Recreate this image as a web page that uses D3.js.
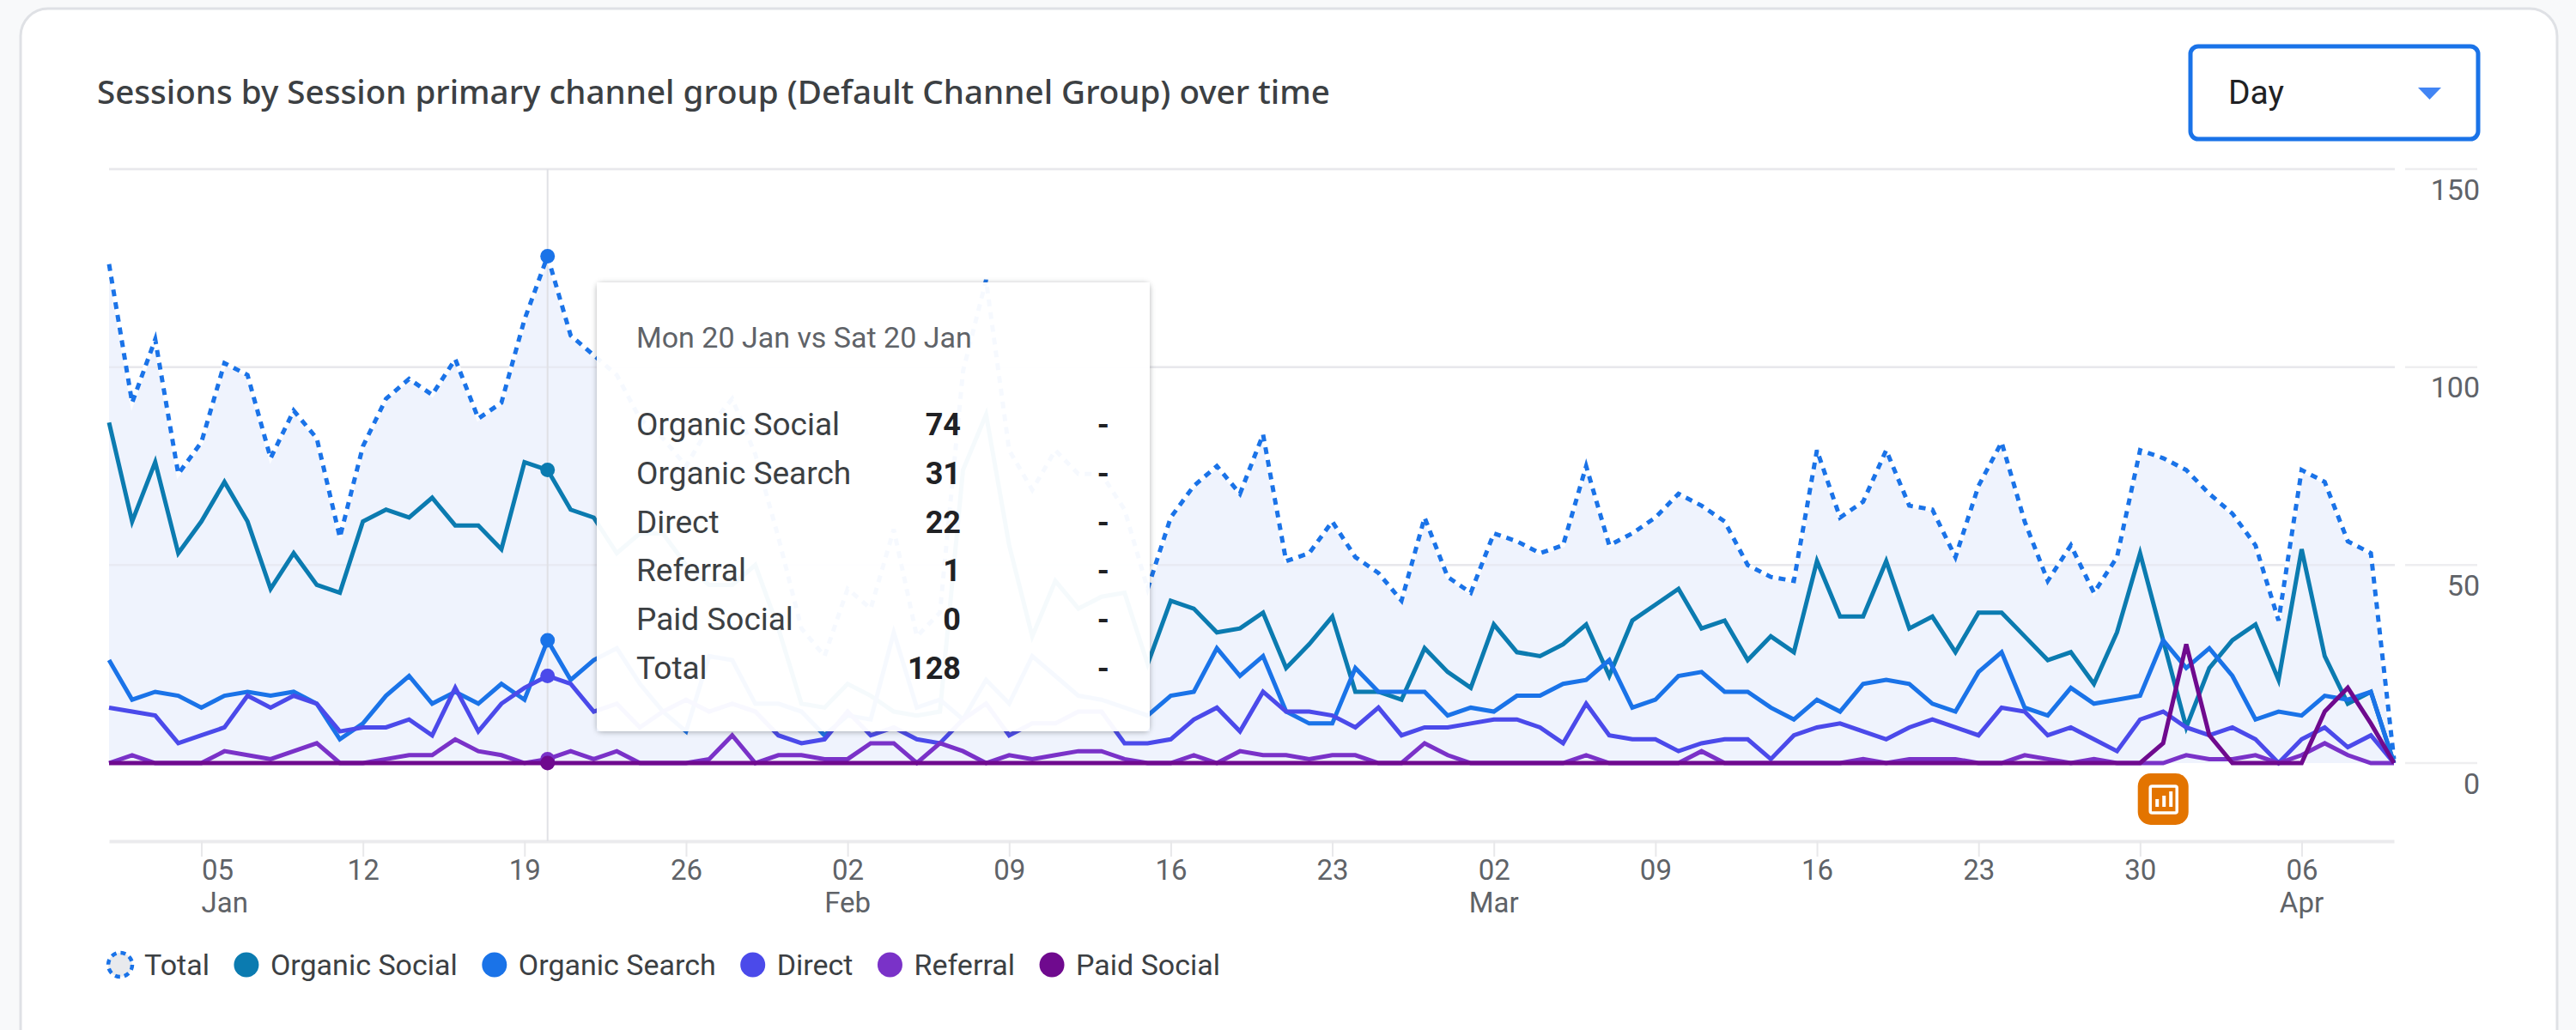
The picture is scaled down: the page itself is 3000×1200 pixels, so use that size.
<html>

<head>
  <title>Sessions over time</title>
  <script src="https://cdn.jsdelivr.net/npm/d3@7"></script>
</head>
<style>
  body {
    margin: 0;
    background: #f8f9fa;
  }

  svg {
    display: block;
    font-family: Roboto, sans-serif;
  }

  .tick-x line {
    stroke: #e8e8ea;
    stroke-width: 2;
  }

  .axis text {
    fill: #5f6368;
    font-size: 33px;
    font-family: Roboto, sans-serif;
  }

  .axis.y-labels text {
    font-size: 34px;
  }

  .axis .domain {
    stroke: #ebebed;
    stroke-width: 4;
  }

  .grid {
    stroke: #eeeef0;
    stroke-width: 2.5;
  }

  .series {
    fill: none;
    stroke-width: 5;
    stroke-linejoin: miter;
  }

  .tip-name {
    fill: #3c4043;
    font-size: 37px;
  }

  .tip-value {
    fill: #202124;
    font-size: 36px;
    font-weight: 700;
    text-anchor: end;
  }
</style>

<body>
  <div id="chart"></div>
</body>

<script>

  let width = 3000, height = 1200;

  // Jan 1 to Apr 10 2025, one value a day
  let firstDay = new Date(Date.UTC(2025, 0, 1));
  let lastDay = new Date(Date.UTC(2025, 3, 10));
  let days = d3.utcDay.range(firstDay, d3.utcDay.offset(lastDay, 1));

  let total = [
    126, 91, 107, 73, 81, 101, 98, 77, 89, 82, 57, 80, 92, 97, 93, 102, 87, 91, 112, 128,
    108, 103, 98, 87, 82, 75, 85, 92, 78, 57,
    34, 27, 44, 39, 59, 32, 38, 99, 122, 79,
    69, 79, 73, 73, 64, 44, 62, 70, 75, 68,
    83, 51, 53, 61, 52, 48, 41, 62, 47, 43,
    58, 56, 53, 55, 75, 55, 58, 62, 68, 65,
    61, 50, 47, 46, 79, 62, 66, 79, 65, 64,
    52, 70, 81, 61, 46, 55, 43, 52, 79, 77,
    74, 68, 63, 55, 36, 74, 71, 56, 53, 1
  ];
  let organicSocial = [
    86, 61, 76, 53, 61, 71, 61, 44, 53, 45, 43, 61, 64, 62, 67, 60, 60, 54, 76, 74,
    64, 62, 53, 58, 58, 50, 45, 45, 50, 34,
    15, 14, 20, 17, 13, 12, 13, 74, 88, 55,
    32, 46, 39, 42, 43, 25, 41, 39, 33, 34,
    38, 24, 30, 37, 18, 18, 16, 29, 23, 19,
    35, 28, 27, 30, 35, 22, 36, 40, 44, 34,
    36, 26, 32, 28, 51, 37, 37, 51, 34, 37,
    28, 38, 38, 32, 26, 28, 20, 33, 53, 31,
    9, 24, 31, 35, 21, 54, 27, 15, 18, 0
  ];
  let organicSearch = [
    26, 16, 18, 17, 14, 17, 18, 17, 18, 15, 6, 10, 17, 22, 15, 18, 15, 20, 16, 31,
    21, 26, 29, 20, 13, 8, 27, 26, 15, 15,
    13, 7, 12, 11, 33, 14, 16, 11, 21, 15,
    27, 22, 17, 16, 14, 12, 17, 18, 29, 22,
    27, 13, 10, 10, 24, 18, 18, 18, 12, 14,
    13, 17, 17, 20, 21, 26, 14, 16, 22, 23,
    18, 18, 14, 11, 16, 13, 20, 21, 20, 15,
    13, 23, 28, 14, 12, 19, 15, 16, 17, 31,
    24, 29, 22, 11, 13, 12, 17, 16, 18, 0
  ];
  let direct = [
    14, 13, 12, 5, 7, 9, 17, 14, 17, 15, 8, 9, 9, 11, 7, 19, 8, 15, 19, 22,
    20, 13, 15, 9, 13, 16, 13, 15, 13, 7,
    5, 6, 13, 7, 9, 6, 5, 11, 15, 7,
    10, 10, 13, 13, 5, 5, 6, 11, 14, 8,
    18, 13, 13, 12, 9, 14, 7, 9, 9, 10,
    11, 11, 9, 5, 15, 7, 6, 6, 3, 5,
    6, 6, 1, 7, 9, 10, 8, 6, 9, 11,
    9, 7, 14, 13, 7, 9, 6, 3, 11, 13,
    9, 7, 9, 6, 0, 6, 9, 4, 7, 0
  ];
  let referral = [
    0, 2, 0, 0, 0, 3, 2, 1, 3, 5, 0, 0, 1, 2, 2, 6, 3, 2, 0, 1,
    3, 1, 3, 0, 0, 0, 1, 7, 0, 2,
    2, 1, 1, 5, 5, 0, 5, 3, 0, 2,
    1, 2, 3, 3, 1, 0, 0, 2, 0, 3,
    2, 2, 1, 2, 2, 0, 0, 5, 2, 0,
    0, 0, 0, 0, 2, 0, 0, 0, 0, 3,
    0, 0, 0, 0, 0, 0, 1, 0, 1, 1,
    1, 0, 0, 2, 1, 0, 1, 0, 0, 0,
    2, 1, 1, 2, 0, 2, 5, 2, 0, 0
  ];
  let paidSocial = [
    0, 0, 0, 0, 0, 0, 0, 0, 0, 0, 0, 0, 0, 0, 0, 0, 0, 0, 0, 0,
    0, 0, 0, 0, 0, 0, 0, 0, 0, 0,
    0, 0, 0, 0, 0, 0, 0, 0, 0, 0,
    0, 0, 0, 0, 0, 0, 0, 0, 0, 0,
    0, 0, 0, 0, 0, 0, 0, 0, 0, 0,
    0, 0, 0, 0, 0, 0, 0, 0, 0, 0,
    0, 0, 0, 0, 0, 0, 0, 0, 0, 0,
    0, 0, 0, 0, 0, 0, 0, 0, 0, 5,
    30, 7, 0, 0, 0, 0, 13, 19, 10, 0
  ];

  let seriesNames = ["Organic Social", "Organic Search", "Direct", "Referral", "Paid Social"];
  let seriesValues = [organicSocial, organicSearch, direct, referral, paidSocial];
  let seriesColors = ["#0b7bb0", "#1a73e8", "#4b4aea", "#7a32c8", "#6f0a8e"];
  let totalColor = "#1a73e8";

  let tickDays = [
    [0, 5], [0, 12], [0, 19], [0, 26], [1, 2], [1, 9], [1, 16], [1, 23],
    [2, 2], [2, 9], [2, 16], [2, 23], [2, 30], [3, 6]
  ].map(d => new Date(Date.UTC(2025, d[0], d[1])));
  let monthTicks = [
    { day: new Date(Date.UTC(2025, 0, 5)), label: "Jan" },
    { day: new Date(Date.UTC(2025, 1, 2)), label: "Feb" },
    { day: new Date(Date.UTC(2025, 2, 2)), label: "Mar" },
    { day: new Date(Date.UTC(2025, 3, 6)), label: "Apr" }
  ];
  let yTicks = [0, 50, 100, 150];

  let hoverDay = new Date(Date.UTC(2025, 0, 20));
  let noteDay = new Date(Date.UTC(2025, 2, 31));
  let tipTitle = "Mon 20 Jan vs Sat 20 Jan";
  let tipNames = ["Organic Social", "Organic Search", "Direct", "Referral", "Paid Social", "Total"];
  let tipValues = [74, 31, 22, 1, 0, 128];

  let x = d3.scaleUtc().domain([firstDay, lastDay]).range([127, 2788]);
  let y = d3.scaleLinear().domain([0, 150]).range([889, 197]);

  let svg = d3.select("#chart").append("svg")
    .attr("width", width)
    .attr("height", height);

  // card
  svg.append("rect")
    .attr("x", 24).attr("y", 10)
    .attr("width", 2954).attr("height", 1300)
    .attr("rx", 32)
    .attr("fill", "#fff")
    .attr("stroke", "#dfe1e5")
    .attr("stroke-width", 3);

  svg.append("text")
    .attr("x", 113).attr("y", 121)
    .attr("font-family", "'Noto Sans', Roboto, sans-serif")
    .attr("font-size", 38.6)
    .attr("font-weight", 500)
    .attr("fill", "#3c4043")
    .text("Sessions by Session primary channel group (Default Channel Group) over time");

  // Day dropdown
  svg.append("rect")
    .attr("x", 2551).attr("y", 54)
    .attr("width", 335).attr("height", 108)
    .attr("rx", 9)
    .attr("fill", "#fff")
    .attr("stroke", "#1a73e8")
    .attr("stroke-width", 5);
  svg.append("text")
    .attr("x", 2595).attr("y", 121)
    .attr("font-size", 39)
    .attr("fill", "#202124")
    .text("Day");
  svg.append("path")
    .attr("d", "M2816,102L2843,102L2829.5,116Z")
    .attr("fill", "#4285f4");

  // grid
  svg.selectAll(".grid").data(yTicks.filter(d => d > 0)).enter().append("line")
    .attr("class", "grid")
    .attr("x1", 127).attr("x2", 2789)
    .attr("y1", d => y(d)).attr("y2", d => y(d));
  svg.selectAll(".grid-r").data(yTicks).enter().append("line")
    .attr("class", "grid")
    .attr("x1", 2801).attr("x2", 2885)
    .attr("y1", d => y(d)).attr("y2", d => y(d));

  // axes
  let yAxis = svg.append("g")
    .attr("class", "axis y-labels")
    .attr("transform", "translate(2888,0)")
    .call(d3.axisRight(y).tickValues(yTicks).tickSize(0).tickPadding(0));
  yAxis.select(".domain").remove();
  yAxis.selectAll("text")
    .attr("text-anchor", "end")
    .attr("dy", 35);

  let xAxis = svg.append("g")
    .attr("class", "axis tick-x")
    .attr("transform", "translate(0,980)")
    .call(d3.axisBottom(x).tickValues(tickDays).tickFormat(d3.utcFormat("%d")).tickSize(18).tickSizeOuter(0).tickPadding(8));
  // first tick sits too close to the edge, label starts at the tick
  xAxis.selectAll(".tick text")
    .attr("text-anchor", (d, i) => i == 0 ? "start" : "middle")
    .attr("dy", 19);

  svg.append("g").attr("class", "axis")
    .selectAll("text").data(monthTicks).enter().append("text")
    .attr("x", d => x(d.day))
    .attr("y", 1063)
    .attr("text-anchor", (d, i) => i == 0 ? "start" : "middle")
    .text(d => d.label);

  // total area and lines
  let area = d3.area()
    .x((d, i) => x(days[i]))
    .y0(y(0))
    .y1(d => y(d));
  let line = d3.line()
    .x((d, i) => x(days[i]))
    .y(d => y(d));

  svg.append("path")
    .datum(total)
    .attr("fill", "#eff3fd")
    .attr("d", area);

  // grid shows through the area
  svg.selectAll(".grid-over").data(yTicks.filter(d => d > 0)).enter().append("line")
    .attr("x1", 127).attr("x2", 2789)
    .attr("y1", d => y(d)).attr("y2", d => y(d))
    .attr("stroke", "#dfe1e6")
    .attr("stroke-opacity", 0.45)
    .attr("stroke-width", 2.5);

  svg.append("line")
    .attr("x1", x(hoverDay)).attr("x2", x(hoverDay))
    .attr("y1", 197).attr("y2", 980)
    .attr("stroke", "#e0e1e6")
    .attr("stroke-width", 2);

  svg.append("path")
    .datum(total)
    .attr("class", "series")
    .attr("stroke", "#fff")
    .attr("stroke-opacity", 0.8)
    .attr("d", line);
  svg.append("path")
    .datum(total)
    .attr("class", "series")
    .attr("stroke", totalColor)
    .attr("stroke-dasharray", "8,7")
    .attr("d", line);

  svg.selectAll(".chan").data(seriesValues).enter().append("path")
    .attr("class", "series chan")
    .attr("stroke", (d, i) => seriesColors[i])
    .attr("d", line);

  // hover dots
  let hoverIndex = d3.bisectLeft(days, hoverDay);
  svg.append("circle")
    .attr("cx", x(hoverDay)).attr("cy", y(total[hoverIndex]))
    .attr("r", 8.5).attr("fill", totalColor);
  svg.selectAll(".hover-dot").data(seriesValues).enter().append("circle")
    .attr("cx", x(hoverDay))
    .attr("cy", d => y(d[hoverIndex]))
    .attr("r", 8.5)
    .attr("fill", (d, i) => seriesColors[i]);

  // annotation icon
  let note = svg.append("g").attr("transform", `translate(${x(noteDay)},931)`);
  note.append("rect")
    .attr("x", -29.5).attr("y", -30)
    .attr("width", 59).attr("height", 60)
    .attr("rx", 15)
    .attr("fill", "#e37400");
  note.append("rect")
    .attr("x", -15).attr("y", -15)
    .attr("width", 31).attr("height", 31)
    .attr("rx", 2)
    .attr("fill", "none")
    .attr("stroke", "#fff")
    .attr("stroke-width", 3.5);
  note.append("rect").attr("x", -9).attr("y", 0).attr("width", 4).attr("height", 9).attr("fill", "#fff");
  note.append("rect").attr("x", -1).attr("y", -4).attr("width", 4).attr("height", 13).attr("fill", "#fff");
  note.append("rect").attr("x", 7).attr("y", -9).attr("width", 4).attr("height", 18).attr("fill", "#fff");

  // tooltip, shadow is clipped so it only falls outside the see-through box
  svg.append("clipPath").attr("id", "tip-outside")
    .append("path")
    .attr("clip-rule", "evenodd")
    .attr("d", "M600,250H1450V950H600ZM695,329V852H1339V329Z");
  let tip = svg.append("g");
  tip.append("g")
    .attr("clip-path", "url(#tip-outside)")
    .append("rect")
    .attr("x", 695).attr("y", 329)
    .attr("width", 644).attr("height", 523)
    .attr("rx", 6)
    .attr("fill", "#fff")
    .style("filter", "drop-shadow(0 1px 3px rgba(60,64,67,.4))");
  tip.append("rect")
    .attr("x", 695).attr("y", 329)
    .attr("width", 644).attr("height", 523)
    .attr("rx", 6)
    .attr("fill", "#fff")
    .attr("fill-opacity", 0.96);
  tip.append("text")
    .attr("x", 741).attr("y", 405)
    .attr("font-size", 34)
    .attr("fill", "#5f6368")
    .text(tipTitle);
  let tipY = d3.scalePoint().domain(tipNames).range([494, 778]);
  tip.selectAll(".tip-name").data(tipNames).enter().append("text")
    .attr("class", "tip-name")
    .attr("x", 741)
    .attr("y", d => tipY(d) + 13)
    .text(d => d);
  tip.selectAll(".tip-value").data(tipValues).enter().append("text")
    .attr("class", "tip-value")
    .attr("x", 1119)
    .attr("y", (d, i) => tipY(tipNames[i]) + 13)
    .text(d => d);
  tip.selectAll(".tip-prev").data(tipNames).enter().append("text")
    .attr("class", "tip-value")
    .attr("x", 1292)
    .attr("y", d => tipY(d) + 13)
    .text("-");

  // legend, each entry follows the last
  let legendNames = ["Total"].concat(seriesNames);
  let legendColors = [totalColor].concat(seriesColors);
  let legend = svg.append("g");
  let legendX = 140;
  legendNames.forEach((name, i) => {
    if (i == 0) {
      legend.append("circle")
        .attr("cx", legendX).attr("cy", 1124).attr("r", 14)
        .attr("fill", "#e8eaed")
        .attr("stroke", totalColor)
        .attr("stroke-width", 4.5)
        .attr("stroke-dasharray", "6,5");
    } else {
      legend.append("circle")
        .attr("cx", legendX).attr("cy", 1124).attr("r", 14.5)
        .attr("fill", legendColors[i]);
    }
    let label = legend.append("text")
      .attr("x", legendX + 28).attr("y", 1136)
      .attr("font-size", 34)
      .attr("fill", "#3c4043")
      .text(name);
    legendX += 28 + label.node().getComputedTextLength() + 43;
  });

</script>

</html>
